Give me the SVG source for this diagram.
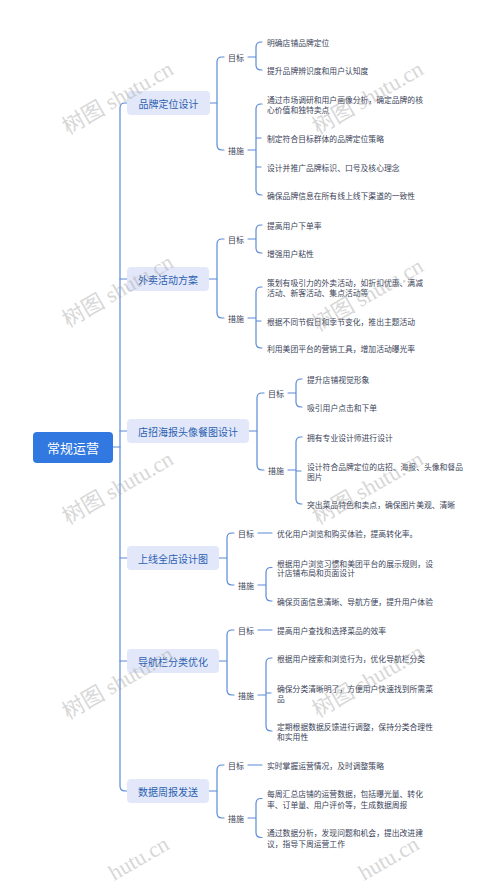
<svg xmlns="http://www.w3.org/2000/svg" width="500" height="884" viewBox="0 0 500 884">
<style>
.c{fill:none;stroke:#5a8ad8;stroke-width:1.2;stroke-linecap:round}
.root{fill:#3178e0}
.rt{font-family:"Noto Sans CJK SC",sans-serif;font-size:13px;fill:#ffffff;text-anchor:middle;dominant-baseline:central}
.br{fill:#e2e8fa}
.bt{font-family:"Noto Sans CJK SC",sans-serif;font-size:10px;fill:#2d5fb0;text-anchor:middle;dominant-baseline:central}
.lb{font-family:"Noto Sans CJK SC",sans-serif;font-size:8px;fill:#3a3f58;dominant-baseline:central}
.lf{font-family:"Noto Sans CJK SC",sans-serif;font-size:7.8px;fill:#3a3f58;dominant-baseline:central}
.wm{font-family:"Liberation Serif","Noto Sans CJK SC",serif;font-size:22px;fill:#a8a8a8;opacity:0.45}
</style>
<rect width="500" height="884" fill="#ffffff"/>
<g id="connectors">
<path class="c" d="M113,447 H120"/>
<path class="c" d="M127,103 H125 Q120,103 120,108 V786 Q120,791 125,791 H127"/>
<path class="c" d="M120,279 H127 M120,431 H127 M120,558 H127 M120,661 H127"/>
<path class="c" d="M210,103 H217 M224,57 H222 Q217,57 217,62 V145 Q217,150 222,150 H224"/>
<path class="c" d="M248,57 H256 M262,42 H261 Q256,42 256,47 V65 Q256,70 261,70 H262"/>
<path class="c" d="M248,150 H256 M262,104 H261 Q256,104 256,109 V190 Q256,195 261,195 H262 M256,138 H261 M256,167 H261"/>
<path class="c" d="M209,279 H217 M224,239 H222 Q217,239 217,244 V313 Q217,318 222,318 H224"/>
<path class="c" d="M248,239 H256 M262,225 H261 Q256,225 256,230 V248 Q256,253 261,253 H262"/>
<path class="c" d="M248,318 H256 M262,287 H261 Q256,287 256,292 V343 Q256,348 261,348 H262 M256,321 H261"/>
<path class="c" d="M249,431 H257 M264,393 H262 Q257,393 257,398 V465 Q257,470 262,470 H264"/>
<path class="c" d="M288,393 H296 M302,379 H301 Q296,379 296,384 V402 Q296,407 301,407 H302"/>
<path class="c" d="M288,470 H296 M302,437 H301 Q296,437 296,442 V499 Q296,504 301,504 H302 M296,471 H301"/>
<path class="c" d="M219,558 H227 M234,533 H232 Q227,533 227,538 V580 Q227,585 232,585 H234"/>
<path class="c" d="M258,533 H272"/>
<path class="c" d="M258,585 H266 M272,567.5 H271 Q266,567.5 266,572.5 V596 Q266,601 271,601 H272"/>
<path class="c" d="M219,661 H227 M234,630 H232 Q227,630 227,635 V690 Q227,695 232,695 H234"/>
<path class="c" d="M258,630 H272"/>
<path class="c" d="M258,695 H266 M272,658 H271 Q266,658 266,663 V726 Q266,731 271,731 H272 M266,693 H271"/>
<path class="c" d="M209,791 H217 M224,765 H222 Q217,765 217,770 V813 Q217,818 222,818 H224"/>
<path class="c" d="M248,765 H262"/>
<path class="c" d="M248,818 H256 M262,798.5 H261 Q256,798.5 256,803.5 V832.5 Q256,837.5 261,837.5 H262"/>
</g>
<g id="root">
<rect class="root" x="33" y="432" width="80" height="31" rx="4"/>
<text class="rt" x="73" y="447.5">常规运营</text>
</g>
<g id="b1">
<rect class="br" x="127" y="91" width="83" height="24" rx="4"/>
<text class="bt" x="168.5" y="103">品牌定位设计</text>
<text class="lb" x="228" y="57">目标</text>
<text class="lf" x="267" y="42">明确店铺品牌定位</text>
<text class="lf" x="267" y="70">提升品牌辨识度和用户认知度</text>
<text class="lb" x="228" y="150">措施</text>
<text class="lf" x="267" y="99.5">通过市场调研和用户画像分析，确定品牌的核</text>
<text class="lf" x="267" y="109">心价值和独特卖点</text>
<text class="lf" x="267" y="138">制定符合目标群体的品牌定位策略</text>
<text class="lf" x="267" y="167">设计并推广品牌标识、口号及核心理念</text>
<text class="lf" x="267" y="195">确保品牌信息在所有线上线下渠道的一致性</text>
</g>
<g id="b2">
<rect class="br" x="127" y="267" width="82" height="24" rx="4"/>
<text class="bt" x="168" y="279">外卖活动方案</text>
<text class="lb" x="228" y="239">目标</text>
<text class="lf" x="267" y="225">提高用户下单率</text>
<text class="lf" x="267" y="253">增强用户粘性</text>
<text class="lb" x="228" y="318">措施</text>
<text class="lf" x="267" y="282">策划有吸引力的外卖活动，如折扣优惠、满减</text>
<text class="lf" x="267" y="292">活动、新客活动、集点活动等</text>
<text class="lf" x="267" y="321">根据不同节假日和季节变化，推出主题活动</text>
<text class="lf" x="267" y="348">利用美团平台的营销工具，增加活动曝光率</text>
</g>
<g id="b3">
<rect class="br" x="127" y="419" width="122" height="24" rx="4"/>
<text class="bt" x="188" y="431">店招海报头像餐图设计</text>
<text class="lb" x="268" y="393">目标</text>
<text class="lf" x="307" y="379">提升店铺视觉形象</text>
<text class="lf" x="307" y="407">吸引用户点击和下单</text>
<text class="lb" x="268" y="470">措施</text>
<text class="lf" x="307" y="437">拥有专业设计师进行设计</text>
<text class="lf" x="307" y="466">设计符合品牌定位的店招、海报、头像和餐品</text>
<text class="lf" x="307" y="476">图片</text>
<text class="lf" x="307" y="504">突出菜品特色和卖点，确保图片美观、清晰</text>
</g>
<g id="b4">
<rect class="br" x="127" y="546" width="92" height="24" rx="4"/>
<text class="bt" x="173" y="558">上线全店设计图</text>
<text class="lb" x="238" y="533">目标</text>
<text class="lf" x="277" y="533">优化用户浏览和购买体验，提高转化率。</text>
<text class="lb" x="238" y="585">措施</text>
<text class="lf" x="277" y="563">根据用户浏览习惯和美团平台的展示规则，设</text>
<text class="lf" x="277" y="572.5">计店铺布局和页面设计</text>
<text class="lf" x="277" y="601">确保页面信息清晰、导航方便，提升用户体验</text>
</g>
<g id="b5">
<rect class="br" x="127" y="649" width="92" height="24" rx="4"/>
<text class="bt" x="173" y="661">导航栏分类优化</text>
<text class="lb" x="238" y="630">目标</text>
<text class="lf" x="277" y="630">提高用户查找和选择菜品的效率</text>
<text class="lb" x="238" y="695">措施</text>
<text class="lf" x="277" y="658">根据用户搜索和浏览行为，优化导航栏分类</text>
<text class="lf" x="277" y="688">确保分类清晰明了，方便用户快速找到所需菜</text>
<text class="lf" x="277" y="698">品</text>
<text class="lf" x="277" y="726">定期根据数据反馈进行调整，保持分类合理性</text>
<text class="lf" x="277" y="736">和实用性</text>
</g>
<g id="b6">
<rect class="br" x="127" y="779" width="82" height="24" rx="4"/>
<text class="bt" x="168" y="791">数据周报发送</text>
<text class="lb" x="228" y="765">目标</text>
<text class="lf" x="267" y="765">实时掌握运营情况，及时调整策略</text>
<text class="lb" x="228" y="818">措施</text>
<text class="lf" x="267" y="793">每周汇总店铺的运营数据，包括曝光量、转化</text>
<text class="lf" x="267" y="804">率、订单量、用户评价等，生成数据周报</text>
<text class="lf" x="267" y="832">通过数据分析，发现问题和机会，提出改进建</text>
<text class="lf" x="267" y="843">议，指导下周运营工作</text>
</g>
<g id="watermarks">
<text class="wm" transform="translate(68,135) rotate(-30)">树图 shutu.cn</text>
<text class="wm" transform="translate(318,135) rotate(-30)">树图 shutu.cn</text>
<text class="wm" transform="translate(68,328) rotate(-30)">树图 shutu.cn</text>
<text class="wm" transform="translate(318,332) rotate(-30)">树图 shutu.cn</text>
<text class="wm" transform="translate(68,525) rotate(-30)">树图 shutu.cn</text>
<text class="wm" transform="translate(318,525) rotate(-30)">树图 shutu.cn</text>
<text class="wm" transform="translate(68,720) rotate(-30)">树图 shutu.cn</text>
<text class="wm" transform="translate(318,718) rotate(-30)">树图 shutu.cn</text>
<text class="wm" transform="translate(114,881) rotate(-30)">hutu.cn</text>
<text class="wm" transform="translate(364,881) rotate(-30)">hutu.cn</text>
</g>
</svg>
